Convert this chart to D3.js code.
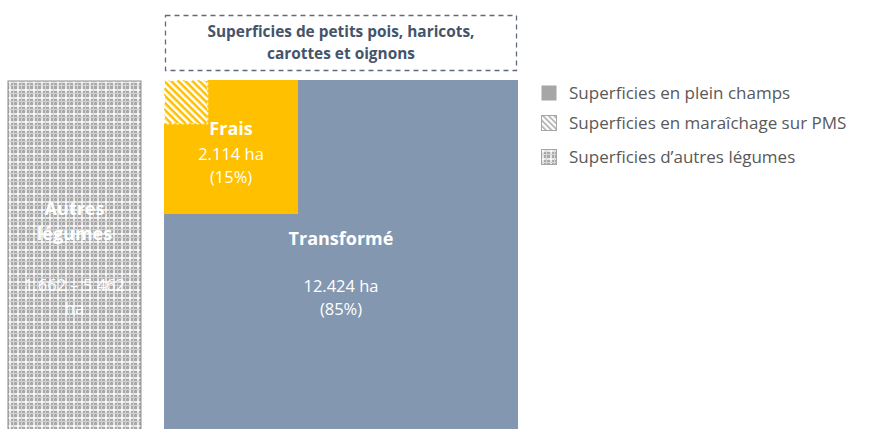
<!DOCTYPE html>
<html>
<head>
<meta charset="utf-8">
<script src="https://cdn.jsdelivr.net/npm/d3@7"></script>
<style>
body { margin: 0; background: #fff; }
svg text { font-family: "Open Sans", Lato, sans-serif; }
</style>
</head>
<body>
<svg id="chart" width="880" height="429"></svg>
<script>
// surfaces (ha)
var categories = ["Frais", "Transformé"];
var surfaces = [2114, 12424];
var shares = ["(15%)", "(85%)"];
var pmsSurface = 220; // not labelled, read off square size
var autresRange = [1662, 5462];
var legendLabels = ["Superficies en plein champs", "Superficies en maraîchage sur PMS", "Superficies d\u2019autres légumes"];
var titleLines = ["Superficies de petits pois, haricots,", "carottes et oignons"];

var fmt = function (v) { return d3.format(",")(v).replace(/,/g, "."); };

var svg = d3.select("#chart");
var defs = svg.append("defs");

// plaid pattern for "autres legumes"
var plaid = defs.append("pattern").attr("id", "plaid")
    .attr("patternUnits", "userSpaceOnUse").attr("width", 8).attr("height", 8);
plaid.append("rect").attr("width", 8).attr("height", 8).attr("fill", "#a9a9a9");
plaid.append("rect").attr("x", 1).attr("width", 2).attr("height", 8).attr("fill", "#e8e8e8");
plaid.append("rect").attr("y", 1).attr("width", 8).attr("height", 2).attr("fill", "#e8e8e8");
plaid.append("rect").attr("x", 5).attr("width", 1).attr("height", 8).attr("fill", "#d6d6d6");
plaid.append("rect").attr("y", 5).attr("width", 8).attr("height", 1).attr("fill", "#d6d6d6");
plaid.append("rect").attr("x", 1).attr("y", 1).attr("width", 2).attr("height", 2).attr("fill", "#fafafa");

// diagonal hatch (yellow / white)
var hatch = defs.append("pattern").attr("id", "hatch")
    .attr("patternUnits", "userSpaceOnUse").attr("width", 5).attr("height", 5)
    .attr("patternTransform", "rotate(-45)");
hatch.append("rect").attr("width", 5).attr("height", 5).attr("fill", "#ffc000");
hatch.append("rect").attr("width", 2.5).attr("height", 5).attr("fill", "#ffffff");

var hatchGray = defs.append("pattern").attr("id", "hatchGray")
    .attr("patternUnits", "userSpaceOnUse").attr("width", 4).attr("height", 4)
    .attr("patternTransform", "rotate(-45)");
hatchGray.append("rect").attr("width", 4).attr("height", 4).attr("fill", "#ffffff");
hatchGray.append("rect").attr("width", 1.5).attr("height", 4).attr("fill", "#a6a6a6");

// main block geometry
var box = {x: 164, y: 80, w: 354, h: 349};
var total = d3.sum(surfaces);
var side = d3.scaleSqrt().domain([0, total]).range([0, Math.sqrt(box.w * box.h)]);
var unitArea = box.w * box.h / total;

// title box
svg.append("rect")
    .attr("x", box.x + 1.5).attr("y", 15.5).attr("width", box.w - 3).attr("height", 55)
    .attr("fill", "none").attr("stroke", "#5f6a7a").attr("stroke-width", 1.3)
    .attr("stroke-dasharray", "5,4");
svg.selectAll(".title").data(titleLines).enter().append("text")
    .attr("x", box.x + box.w / 2).attr("y", function (d, i) { return 37 + i * 22; })
    .attr("text-anchor", "middle").attr("font-weight", "bold").attr("font-size", 15.4)
    .attr("fill", "#44546a").text(function (d) { return d; });

// autres legumes
var autresW = autresRange[1] * unitArea / box.h;
var ax = 8;
svg.append("rect").attr("x", ax).attr("y", box.y + 1).attr("width", autresW).attr("height", box.h)
    .attr("fill", "url(#plaid)").attr("stroke", "#8c8c8c").attr("stroke-width", 1);
var acx = ax + autresW / 2;
var aText = [
    {t: "Autres", y: 215, b: true},
    {t: "légumes", y: 240, b: true},
    {t: fmt(autresRange[0]) + " \u2013 " + fmt(autresRange[1]), y: 291, b: false},
    {t: "ha", y: 314, b: false}
];
svg.selectAll(".autres").data(aText).enter().append("text")
    .attr("x", acx).attr("y", function (d) { return d.y; })
    .attr("text-anchor", "middle").attr("fill", "#fff")
    .attr("font-size", function (d) { return d.b ? 18 : 16.5; })
    .attr("font-weight", function (d) { return d.b ? "bold" : "normal"; })
    .text(function (d) { return d.t; });

// transformé (whole block) then frais on top
svg.append("rect").attr("x", box.x).attr("y", box.y).attr("width", box.w).attr("height", box.h)
    .attr("fill", "#8497b0");
var fs = side(surfaces[0]);
svg.append("rect").attr("x", box.x).attr("y", box.y).attr("width", fs).attr("height", fs)
    .attr("fill", "#ffc000");
var ps = side(pmsSurface);
svg.append("rect").attr("x", box.x).attr("y", box.y).attr("width", ps).attr("height", ps)
    .attr("fill", "url(#hatch)");
svg.append("rect").attr("x", box.x + 0.5).attr("y", box.y + 0.5).attr("width", ps).attr("height", ps)
    .attr("fill", "none").attr("stroke", "#fff").attr("stroke-width", 1).attr("stroke-dasharray", "3,2");

// labels
var fcx = box.x + fs / 2;
svg.append("text").attr("x", fcx).attr("y", 135).attr("text-anchor", "middle")
    .attr("fill", "#fff").attr("font-weight", "bold").attr("font-size", 18).text(categories[0]);
svg.append("text").attr("x", fcx).attr("y", 160).attr("text-anchor", "middle")
    .attr("fill", "#fff").attr("font-size", 16.5).text(fmt(surfaces[0]) + " ha");
svg.append("text").attr("x", fcx).attr("y", 183).attr("text-anchor", "middle")
    .attr("fill", "#fff").attr("font-size", 16.5).text(shares[0]);

var tcx = box.x + box.w / 2;
svg.append("text").attr("x", tcx).attr("y", 245).attr("text-anchor", "middle")
    .attr("fill", "#fff").attr("font-weight", "bold").attr("font-size", 18).text(categories[1]);
svg.append("text").attr("x", tcx).attr("y", 292).attr("text-anchor", "middle")
    .attr("fill", "#fff").attr("font-size", 16.5).text(fmt(surfaces[1]) + " ha");
svg.append("text").attr("x", tcx).attr("y", 315).attr("text-anchor", "middle")
    .attr("fill", "#fff").attr("font-size", 16.5).text(shares[1]);

// legend
var legendFill = ["#a6a6a6", "url(#hatchGray)", "url(#plaid)"];
var legendY = [85, 115, 149];
var lg = svg.selectAll(".lg").data(legendLabels).enter().append("g")
    .attr("transform", function (d, i) { return "translate(541," + legendY[i] + ")"; });
lg.append("rect").attr("x", 0.5).attr("y", 0.5).attr("width", 15).attr("height", 15)
    .attr("fill", function (d, i) { return legendFill[i]; })
    .attr("stroke", function (d, i) { return i ? "#a6a6a6" : "none"; });
lg.append("text").attr("x", 28).attr("y", 14).attr("font-size", 17).attr("fill", "#595959")
    .text(function (d) { return d; });
</script>
</body>
</html>
